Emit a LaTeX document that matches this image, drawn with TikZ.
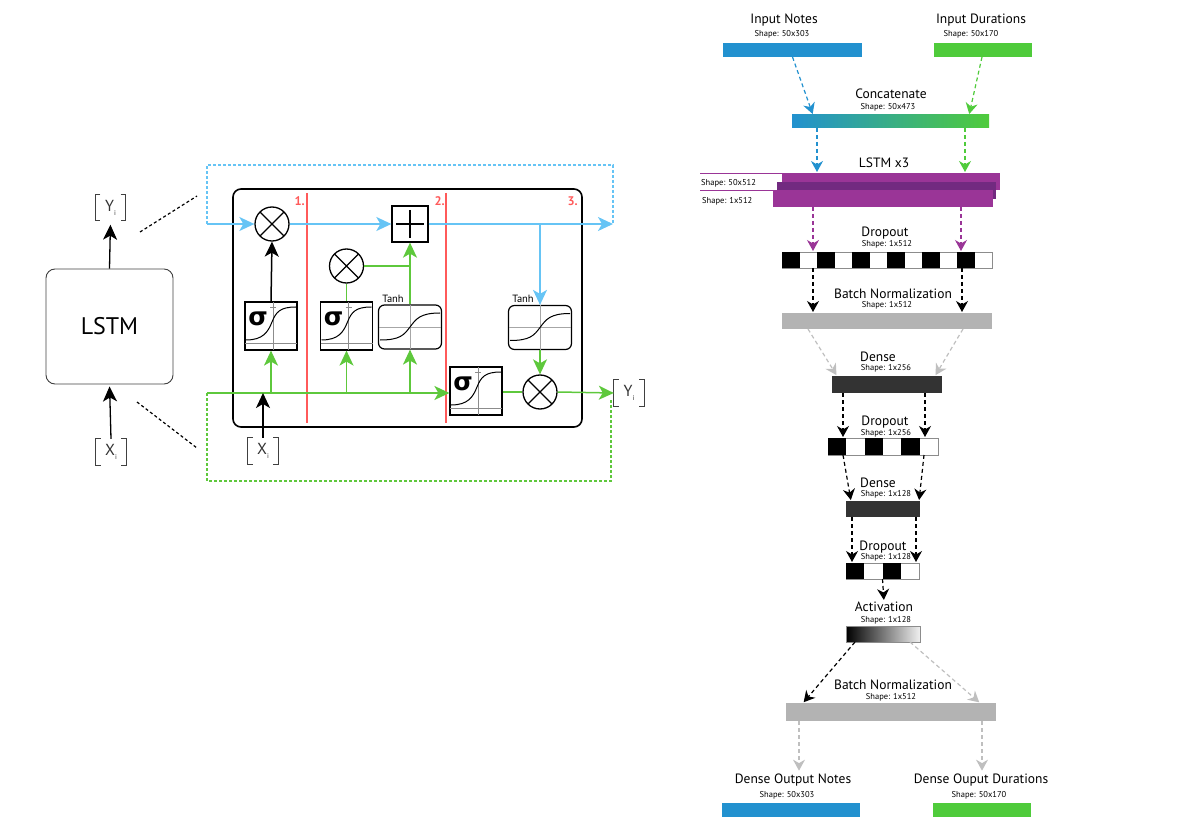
\documentclass[tikz,border=0pt]{standalone}
\usepackage{fontspec}
\setmainfont{PT Sans}
\newfontfamily\greekfont{DejaVu Sans}
\usetikzlibrary{positioning,arrows.meta}

\definecolor{notesblue}{HTML}{2291CF}
\definecolor{durgreen}{HTML}{4FCB3B}
\definecolor{lstmpurple}{HTML}{9A3597}
\definecolor{lstmdark}{HTML}{722A80}
\definecolor{normgrey}{HTML}{B3B3B3}
\definecolor{densegrey}{HTML}{333333}
\definecolor{cellblue}{HTML}{66C4F5}
\definecolor{cellgreen}{HTML}{5EC83C}
\definecolor{stepred}{HTML}{FF5A5A}

\tikzset{
  bar/.style={inner sep=0pt, outer sep=0pt, minimum height=14pt},
  title/.style={inner sep=0pt, font=\fontsize{13.5}{15}\selectfont},
  shp/.style={inner sep=0pt, font=\fontsize{8.5}{10}\selectfont},
  flow/.style={line width=1.2pt, dash pattern=on 4pt off 3pt, shorten >=1pt,
    -{Stealth[length=11pt,width=12pt,inset=3.5pt]}},
  wire/.style={line width=1.5pt},
  tip/.style={-{Stealth[length=15pt,width=14pt,inset=4pt]}},
  gate/.style={circle, draw, line width=1.3pt, minimum size=34pt, inner sep=0pt,
    path picture={\draw[line width=1.3pt]
      (path picture bounding box.north west) -- (path picture bounding box.south east)
      (path picture bounding box.north east) -- (path picture bounding box.south west);}},
  addgate/.style={draw, line width=1.3pt, minimum size=36pt, inner sep=0pt,
    path picture={\draw[line width=1.6pt]
      ([yshift=-4pt]path picture bounding box.north) -- ([yshift=4pt]path picture bounding box.south)
      ([xshift=4pt]path picture bounding box.west) -- ([xshift=-4pt]path picture bounding box.east);}},
  sigbox/.style={draw, line width=1.2pt, minimum width=52pt, minimum height=48pt, inner sep=0pt},
  tanhbox/.style={draw, line width=1.2pt, rounded corners=6pt, minimum width=63pt, minimum height=44pt, inner sep=0pt},
  io/.style={minimum width=30pt, minimum height=26pt, inner sep=0pt, text=black!80, font=\fontsize{16}{16}\selectfont},
  cellframe/.style={dash pattern=on 3pt off 2pt, line width=1.2pt},
  zoomline/.style={dash pattern=on 3pt off 2.5pt, line width=1.2pt},
  smalltext/.style={inner sep=0pt, font=\fontsize{10.5}{10.5}\selectfont, anchor=south}
}

% curve inside a sigma gate
\newcommand\sigmacurve[1]{%
  \begin{scope}[shift={(#1.center)}]
    \draw[black!45, line width=0.6pt] (-26,17) -- (26,17) (2,-24) -- (2,24) (-1,-19) -- (5,-19);
    \draw[line width=1pt] (-25,14) .. controls (-8,14) and (-3,6) .. (1,-4) .. controls (5,-14) and (9,-19) .. (25,-19);
    \node[inner sep=0pt, font=\greekfont\bfseries\fontsize{25}{25}\selectfont] at (-13,-7) {σ};
  \end{scope}}
% curve inside a tanh gate
\newcommand\tanhcurve[1]{%
  \begin{scope}[shift={(#1.center)}]
    \draw[black!35, line width=0.6pt] (-31,0) -- (31,0) (0,-22) -- (0,22);
    \draw[line width=1pt] (-30,13) .. controls (-10,13) and (-6,8) .. (0,0) .. controls (6,-8) and (10,-14) .. (30,-14);
  \end{scope}}
% square brackets round an input/output label
\newcommand\ioframe[1]{%
  \draw[black!75, line width=0.8pt] ([xshift=5pt]#1.north west) -| (#1.south west) -- ++(5,0)
    ([xshift=-5pt]#1.north east) -| (#1.south east) -- ++(-5,0);}
\newcommand\idx[1]{#1\raisebox{-4pt}{\fontsize{7}{7}\selectfont i}}

\begin{document}
\begin{tikzpicture}[x=1pt, y=-1pt]
\useasboundingbox (0,0) rectangle (1194,834);

% overview
\node[draw=black!75, line width=0.9pt, rounded corners=9pt, minimum width=127pt, minimum height=115pt,
  font=\fontsize{24}{24}\selectfont] (lstm) at (109.5,326.5) {LSTM};
\node[io] (yl) at (110.5,207.5) {\idx{Y}};
\node[io] (xl) at (111,452) {\idx{X}};
\ioframe{yl} \ioframe{xl}
\draw[line width=1.3pt, tip, shorten >=4pt] (lstm.north) -- (yl.south);
\draw[line width=1.3pt, tip, shorten >=2pt] (xl.north) -- (lstm.south);
\draw[zoomline] (140,232) -- (197,196);
\draw[zoomline] (137,402) -- (197,448);

% cell
\node[draw, line width=1.6pt, rounded corners=8pt, minimum width=349pt, minimum height=238pt] (cell) at (407.5,308) {};
\draw[stepred, line width=1.2pt] (307,193) -- (307,423) (446,193) -- (446,423);
\node[text=stepred, font=\bfseries\fontsize{12.5}{12.5}\selectfont, anchor=east, inner sep=0pt] (s1) at (305,201) {1.};
\node[text=stepred, font=\bfseries\fontsize{12.5}{12.5}\selectfont, anchor=east, inner sep=0pt] (s2) at (445,201) {2.};
\node[text=stepred, font=\bfseries\fontsize{12.5}{12.5}\selectfont, anchor=east, inner sep=0pt] (s3) at (578,201) {3.};

\coordinate (cin) at (207,224);
\coordinate (cout) at (613,224);
\coordinate (gin) at (207,393);
\coordinate (gout) at (611,399);

\node[gate] (fx) at (272,224) {};
\node[addgate] (plus) at (410,224) {};
\node[sigbox] (sig1) at (271,326) {}; \sigmacurve{sig1}
\node[sigbox] (sig2) at (346.5,326) {}; \sigmacurve{sig2}
\node[gate] (ix) at (346.5,266) {};
\node[tanhbox] (tanh1) at (410,327) {}; \tanhcurve{tanh1}
\node[tanhbox] (tanh2) at (540,327.5) {}; \tanhcurve{tanh2}
\node[sigbox] (sig3) at (476,391) {}; \sigmacurve{sig3}
\node[gate] (ox) at (540,392) {};
\node[smalltext] (t1) at ([xshift=-17pt,yshift=2pt]tanh1.north) {Tanh};
\node[smalltext] (t2) at ([xshift=-17pt,yshift=2pt]tanh2.north) {Tanh};
\node[io] (yc) at (629,393) {\idx{Y}};
\node[io] (xc) at (263,451) {\idx{X}};
\ioframe{yc} \ioframe{xc}

\draw[cellblue, cellframe] (cin) -- ++(0,-59) -| (cout);
\draw[cellgreen, cellframe] (gin) -- ++(0,88) -| (gout);
\draw[cellblue, wire, tip] (cin) -- (fx.west);
\draw[cellblue, wire, tip] (fx.east) -- (plus.west);
\draw[cellblue, wire, tip] (plus.east) -- (cout);
\draw[cellblue, wire, tip] (plus.east -| tanh2.north) -- (tanh2.north);
\draw[wire, tip] (sig1.north) -- (fx.south);
\draw[cellgreen, wire, tip] (gin) -- (sig3.west |- gin);
\draw[cellgreen, wire, tip] (sig1.south |- gin) -- (sig1.south);
\draw[cellgreen, wire, tip] (sig2.south |- gin) -- (sig2.south);
\draw[cellgreen, wire, tip] (tanh1.south |- gin) -- (tanh1.south);
\draw[cellgreen, wire] (sig2.north) -- (ix.south);
\draw[cellgreen, wire] (ix.east) -- (ix.east -| plus.south);
\draw[cellgreen, wire, tip] (tanh1.north) -- (plus.south);
\draw[cellgreen, wire] (sig3.east |- ox.west) -- (ox.west);
\draw[cellgreen, wire, tip] (tanh2.south) -- (ox.north);
\draw[cellgreen, wire, tip] (ox.east) -- (yc.west);
\draw[wire, tip] (xc.north) -- (xc.north |- gin);

% network
\node[bar, fill=notesblue, minimum width=139pt] (innotes) at (792.5,50) {};
\node[title] (tinnotes) at (784,20) {Input Notes};
\node[shp] (sinnotes) at (782,34) {Shape: 50x303};
\node[bar, fill=durgreen, minimum width=98pt] (indur) at (983,50) {};
\node[title] (tindur) at (981,20) {Input Durations};
\node[shp] (sindur) at (971,34) {Shape: 50x170};

\node[bar, left color=notesblue, right color=durgreen, minimum width=197pt, minimum height=13pt] (concat) at (890.5,121.5) {};
\node[title] (tconcat) at (891,94) {Concatenate};
\node[shp] (sconcat) at (888,107) {Shape: 50x473};

\node[title] (tlstm) at (884,163) {LSTM x3};
\node[bar, fill=lstmpurple, minimum width=218pt, minimum height=17pt] (lstmtop) at (891,181.5) {};
\node[bar, fill=lstmdark, minimum width=219pt, minimum height=17pt] (lstmmid) at (886.5,190.5) {};
\node[bar, fill=lstmpurple, minimum width=220pt, minimum height=17pt] (lstmbot) at (883,198.5) {};
\draw[lstmpurple, line width=0.6pt] (700,173) -- (lstmtop.north west);
\draw[lstmpurple, line width=0.6pt] (700,190) -- (lstmbot.north west);
\node[shp, anchor=west] (slstma) at (701,183) {Shape: 50x512};
\node[shp, anchor=west] (slstmb) at (702,201) {Shape: 1x512};

\node[bar, draw=black!45, fill=white, minimum width=210pt, minimum height=16pt] (drop1) at (887,260) {};
\foreach \k in {0,2,...,10} \fill ([xshift=\k*17.5pt]drop1.north west) rectangle ++(17.5,16);
\node[title] (tdrop1) at (885,233) {Dropout};
\node[shp] (sdrop1) at (887,244) {Shape: 1x512};

\node[bar, fill=normgrey, minimum width=210pt, minimum height=16pt] (bn1) at (887,321) {};
\node[title] (tbn1) at (893,294) {Batch Normalization};
\node[shp] (sbn1) at (887,305) {Shape: 1x512};

\node[bar, fill=densegrey, minimum width=110pt, minimum height=17pt] (dense1) at (887,384.5) {};
\node[title] (tdense1) at (878,357) {Dense};
\node[shp] (sdense1) at (886,368) {Shape: 1x256};

\node[bar, draw=black!45, fill=white, minimum width=110pt, minimum height=17pt] (drop2) at (883,446.5) {};
\foreach \k in {0,2,4} \fill ([xshift=\k*18.33pt]drop2.north west) rectangle ++(18.33,17);
\node[title] (tdrop2) at (885,422) {Dropout};
\node[shp] (sdrop2) at (886,433) {Shape: 1x256};

\node[bar, fill=densegrey, minimum width=74pt, minimum height=16pt] (dense2) at (883,509) {};
\node[title] (tdense2) at (878,483) {Dense};
\node[shp] (sdense2) at (886,494) {Shape: 1x128};

\node[bar, draw=black!45, fill=white, minimum width=73pt, minimum height=16pt] (drop3) at (882.5,571) {};
\foreach \k in {0,2} \fill ([xshift=\k*18.25pt]drop3.north west) rectangle ++(18.25,16);
\node[title] (tdrop3) at (883,547) {Dropout};
\node[shp] (sdrop3) at (886,557) {Shape: 1x128};

\node[bar, draw=black!45, left color=black, right color=black!6, minimum width=74pt, minimum height=16pt] (act) at (883,634) {};
\node[title] (tact) at (884,607) {Activation};
\node[shp] (sact) at (886,620) {Shape: 1x128};

\node[bar, fill=normgrey, minimum width=210pt, minimum height=18pt] (bn2) at (891,712) {};
\node[title] (tbn2) at (893,685) {Batch Normalization};
\node[shp] (sbn2) at (891,697) {Shape: 1x512};

\node[bar, fill=notesblue, minimum width=138pt] (outnotes) at (791,810) {};
\node[title] (toutnotes) at (793,780) {Dense Output Notes};
\node[shp] (soutnotes) at (787,795) {Shape: 50x303};
\node[bar, fill=durgreen, minimum width=98pt] (outdur) at (982,810) {};
\node[title] (toutdur) at (981,780) {Dense Ouput Durations};
\node[shp] (soutdur) at (979,795) {Shape: 50x170};

\draw[flow, notesblue] (innotes.south) -- ([xshift=-77.5pt]concat.north);
\draw[flow, durgreen] ([xshift=-1pt]indur.south) -- ([xshift=78.5pt]concat.north);
\draw[flow, notesblue] ([xshift=-73.5pt]concat.south) -- ([xshift=-74pt]lstmtop.north);
\draw[flow, durgreen] ([xshift=74.5pt]concat.south) -- ([xshift=74pt]lstmtop.north);
\draw[flow, lstmpurple] ([xshift=-70pt]lstmbot.south) -- ([xshift=-74pt]drop1.north);
\draw[flow, lstmpurple] ([xshift=78pt]lstmbot.south) -- ([xshift=74pt]drop1.north);
\draw[flow] ([xshift=-74pt]drop1.south) -- ([xshift=-74pt]bn1.north);
\draw[flow] ([xshift=75pt]drop1.south) -- ([xshift=75pt]bn1.north);
\draw[flow, black!25] ([xshift=-79pt]bn1.south) -- ([xshift=-50pt]dense1.north);
\draw[flow, black!25] ([xshift=76pt]bn1.south) -- ([xshift=48pt]dense1.north);
\draw[flow] ([xshift=-44pt]dense1.south) -- ([xshift=-40pt]drop2.north);
\draw[flow] ([xshift=38pt]dense1.south) -- ([xshift=42pt]drop2.north);
\draw[flow] ([xshift=-40pt]drop2.south) -- ([xshift=-32pt]dense2.north);
\draw[flow] ([xshift=41pt]drop2.south) -- ([xshift=36pt]dense2.north);
\draw[flow] ([xshift=-31pt]dense2.south) -- ([xshift=-30.5pt]drop3.north);
\draw[flow] ([xshift=33pt]dense2.south) -- ([xshift=33.5pt]drop3.north);
\draw[flow, shorten >=2pt] (drop3.south) -- (tact.north);
\draw[flow] ([xshift=-28pt]act.south) -- ([xshift=-88pt]bn2.north);
\draw[flow, black!25] ([xshift=27pt]act.south) -- ([xshift=89pt]bn2.north);
\draw[flow, black!25, shorten >=3pt] ([xshift=-92pt]bn2.south) -- ([xshift=6pt]toutnotes.north);
\draw[flow, black!25, shorten >=3pt] ([xshift=91pt]bn2.south) -- ([xshift=1pt]toutdur.north);
\end{tikzpicture}
\end{document}
